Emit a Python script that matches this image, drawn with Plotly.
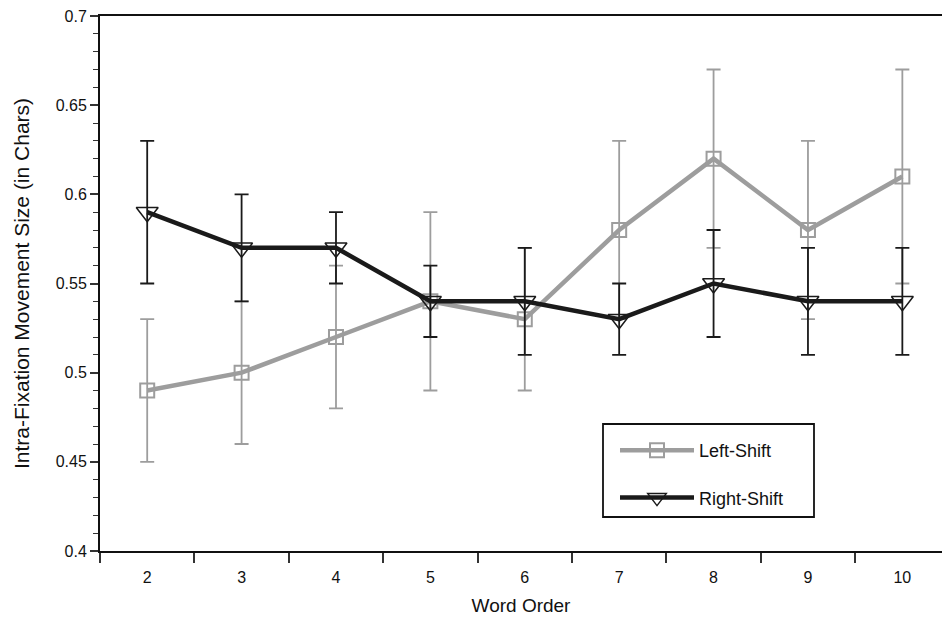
import plotly.graph_objects as go

word_order = ["2", "3", "4", "5", "6", "7", "8", "9", "10"]

left_mean = [0.49, 0.50, 0.52, 0.54, 0.53, 0.58, 0.62, 0.58, 0.61]
left_err = [0.04, 0.04, 0.04, 0.05, 0.04, 0.05, 0.05, 0.05, 0.06]

right_mean = [0.59, 0.57, 0.57, 0.54, 0.54, 0.53, 0.55, 0.54, 0.54]
right_err = [0.04, 0.03, 0.02, 0.02, 0.03, 0.02, 0.03, 0.03, 0.03]

y_ticks = [0.4, 0.45, 0.5, 0.55, 0.6, 0.65, 0.7]

GRAY = "#9d9d9d"
BLACK = "#1a1a1a"
FONT = "Liberation Sans, Arial, sans-serif"

# plot area geometry in pixels (for placing legend box)
L, R, T, B = 100, 942, 16, 551
W, H = R - L, B - T


def px(xp):
    return (xp - L) / W


def py(yp):
    return (B - yp) / H


fig = go.Figure()
fig.add_trace(go.Scatter(
    x=word_order, y=left_mean, name="Left-Shift", mode="lines+markers",
    line=dict(color=GRAY, width=4.5),
    marker=dict(symbol="square-open", size=14, color=GRAY, line=dict(width=2)),
    error_y=dict(type="data", array=left_err, color=GRAY, thickness=1.8, width=7),
    legendgroup="a",
))
fig.add_trace(go.Scatter(
    x=word_order, y=right_mean, name="Right-Shift", mode="lines+markers",
    line=dict(color=BLACK, width=4.5),
    marker=dict(symbol="triangle-down-open", size=19, color=BLACK, line=dict(width=1.5)),
    error_y=dict(type="data", array=right_err, color=BLACK, thickness=1.8, width=7),
    legendgroup="b",
))

fig.add_shape(
    type="rect", xref="paper", yref="paper",
    x0=px(603), x1=px(814), y0=py(517), y1=py(424),
    line=dict(color="#111", width=1.8), fillcolor="rgba(0,0,0,0)", layer="above",
)

fig.update_layout(
    width=942, height=620,
    margin=dict(l=L, r=0, t=T, b=620 - B),
    plot_bgcolor="white", paper_bgcolor="white",
    font=dict(family=FONT, size=16, color="#111"),
    legend=dict(
        x=px(615), y=py(432), xanchor="left", yanchor="top",
        borderwidth=0, bgcolor="rgba(0,0,0,0)",
        font=dict(size=18), itemwidth=74, tracegroupgap=21,
        traceorder="grouped",
    ),
    xaxis=dict(
        type="category", range=[-0.5, 8.42],
        showline=True, linecolor="#111", linewidth=2, mirror=True,
        ticks="outside", tickson="boundaries", ticklen=10, tickcolor="#333",
        tickwidth=1.5, ticklabelstandoff=11,
        showgrid=False, zeroline=False,
        title=dict(text="Word Order", font=dict(size=19), standoff=13),
    ),
    yaxis=dict(
        range=[0.4, 0.7], tickvals=y_ticks,
        showline=True, linecolor="#111", linewidth=2,
        ticks="outside", ticklen=8, tickcolor="#333", tickwidth=1.5,
        minor=dict(dtick=0.01, tick0=0.4, ticks="outside", ticklen=5, tickcolor="#333", tickwidth=1.2, showgrid=False),
        showgrid=False, zeroline=False,
        title=dict(text="Intra-Fixation Movement Size (in Chars)", font=dict(size=21), standoff=20),
    ),
)

fig.write_html("out.html")
